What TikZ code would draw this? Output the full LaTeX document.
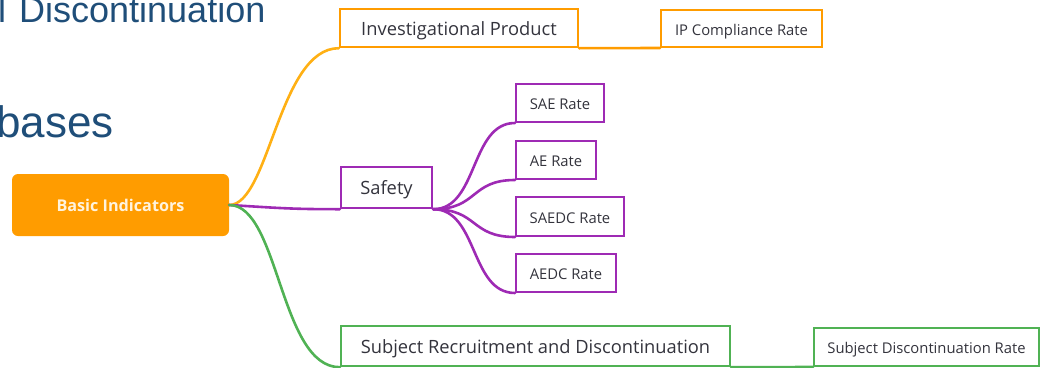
\documentclass[tikz,border=0pt]{standalone}
\usepackage{fontspec}
\setmainfont{Open Sans}
\newfontfamily\slidefont{Liberation Sans}
\usepackage{tikz}
\usetikzlibrary{positioning}
\definecolor{ipline}{RGB}{255,176,20}
\definecolor{ipbox}{RGB}{255,156,0}
\definecolor{safecol}{RGB}{158,42,180}
\definecolor{subjcol}{RGB}{80,178,84}
\definecolor{slideblue}{RGB}{31,78,121}
\definecolor{boxtext}{RGB}{51,51,60}
\definecolor{roottext}{RGB}{255,243,222}

\begin{document}
\begin{tikzpicture}[x = 1pt, y = -1pt,
  branch/.style = {line width = 2.6pt, line cap = round},
  topic/.style = {draw, line width = 2.4pt, inner sep = 0pt, text = boxtext, text height = 14pt, text depth = 0pt, font = \fontsize{18.3}{20}\selectfont},
  leaf/.style = {draw, line width = 2pt, inner sep = 0pt, text = boxtext, text height = 13pt, text depth = 0pt, font = \fontsize{14.8}{16}\selectfont}]
\useasboundingbox (0,0) rectangle (1049,367);
% text left over from the slide behind
\node[anchor = base west, inner sep = 0pt, text = slideblue, font = \slidefont\fontsize{36}{40}\selectfont] (slidea) at (-2,22) {l\hspace{3pt} Discontinuation};
\node[anchor = base west, inner sep = 0pt, text = slideblue, font = \slidefont\fontsize{44}{48}\selectfont] (slideb) at (-4,137) {bases};
% root
\node[fill = ipbox, rounded corners = 6pt, minimum width = 217pt, minimum height = 62pt, inner sep = 0pt, text = roottext, font = \bfseries\fontsize{16.2}{18}\selectfont] (basic) at (120.5,205) {Basic Indicators};
% first level
\node[topic, draw = ipbox, minimum width = 238pt, minimum height = 38pt] (ip) at (459,28) {Investigational Product};
\node[topic, draw = safecol, minimum width = 91pt, minimum height = 41pt] (safety) at (386.5,187.5) {Safety};
\node[topic, draw = subjcol, minimum width = 389pt, minimum height = 40pt] (subj) at (535.5,346) {Subject Recruitment and Discontinuation};
% second level
\node[leaf, draw = ipbox, minimum width = 161pt, minimum height = 37pt] (ipcr) at (741.5,28.5) {IP Compliance Rate};
\node[leaf, draw = safecol, minimum width = 88pt, minimum height = 38pt] (sae) at (560,103) {SAE Rate};
\node[leaf, draw = safecol, minimum width = 80pt, minimum height = 38pt] (ae) at (556,160) {AE Rate};
\node[leaf, draw = safecol, minimum width = 108pt, minimum height = 39pt] (saedc) at (570,216.5) {SAEDC Rate};
\node[leaf, draw = safecol, minimum width = 100pt, minimum height = 38pt] (aedc) at (566,273) {AEDC Rate};
\node[leaf, draw = subjcol, minimum width = 225pt, minimum height = 38pt] (sdr) at (926.5,347) {Subject Discontinuation Rate};
% branches
\draw[branch, ipline] (basic.east) .. controls +(40,0) and +(-60,0) .. (ip.south west);
\draw[branch, ipbox] (ip.south east) .. controls +(40,0) and +(-40,0) .. (ipcr.south west);
\draw[branch, safecol] (basic.east) .. controls +(50,3) and +(-50,0) .. (safety.south west);
\draw[branch, subjcol] (basic.east) .. controls +(50,0) and +(-60,0) .. (subj.south west);
\draw[branch, subjcol] (subj.south east) .. controls +(40,0) and +(-40,0) .. (sdr.south west);
\foreach \leafnode in {sae, ae, saedc, aedc}
  \draw[branch, safecol] (safety.south east) .. controls +(45,0) and +(-45,0) .. (\leafnode.south west);
\end{tikzpicture}
\end{document}
